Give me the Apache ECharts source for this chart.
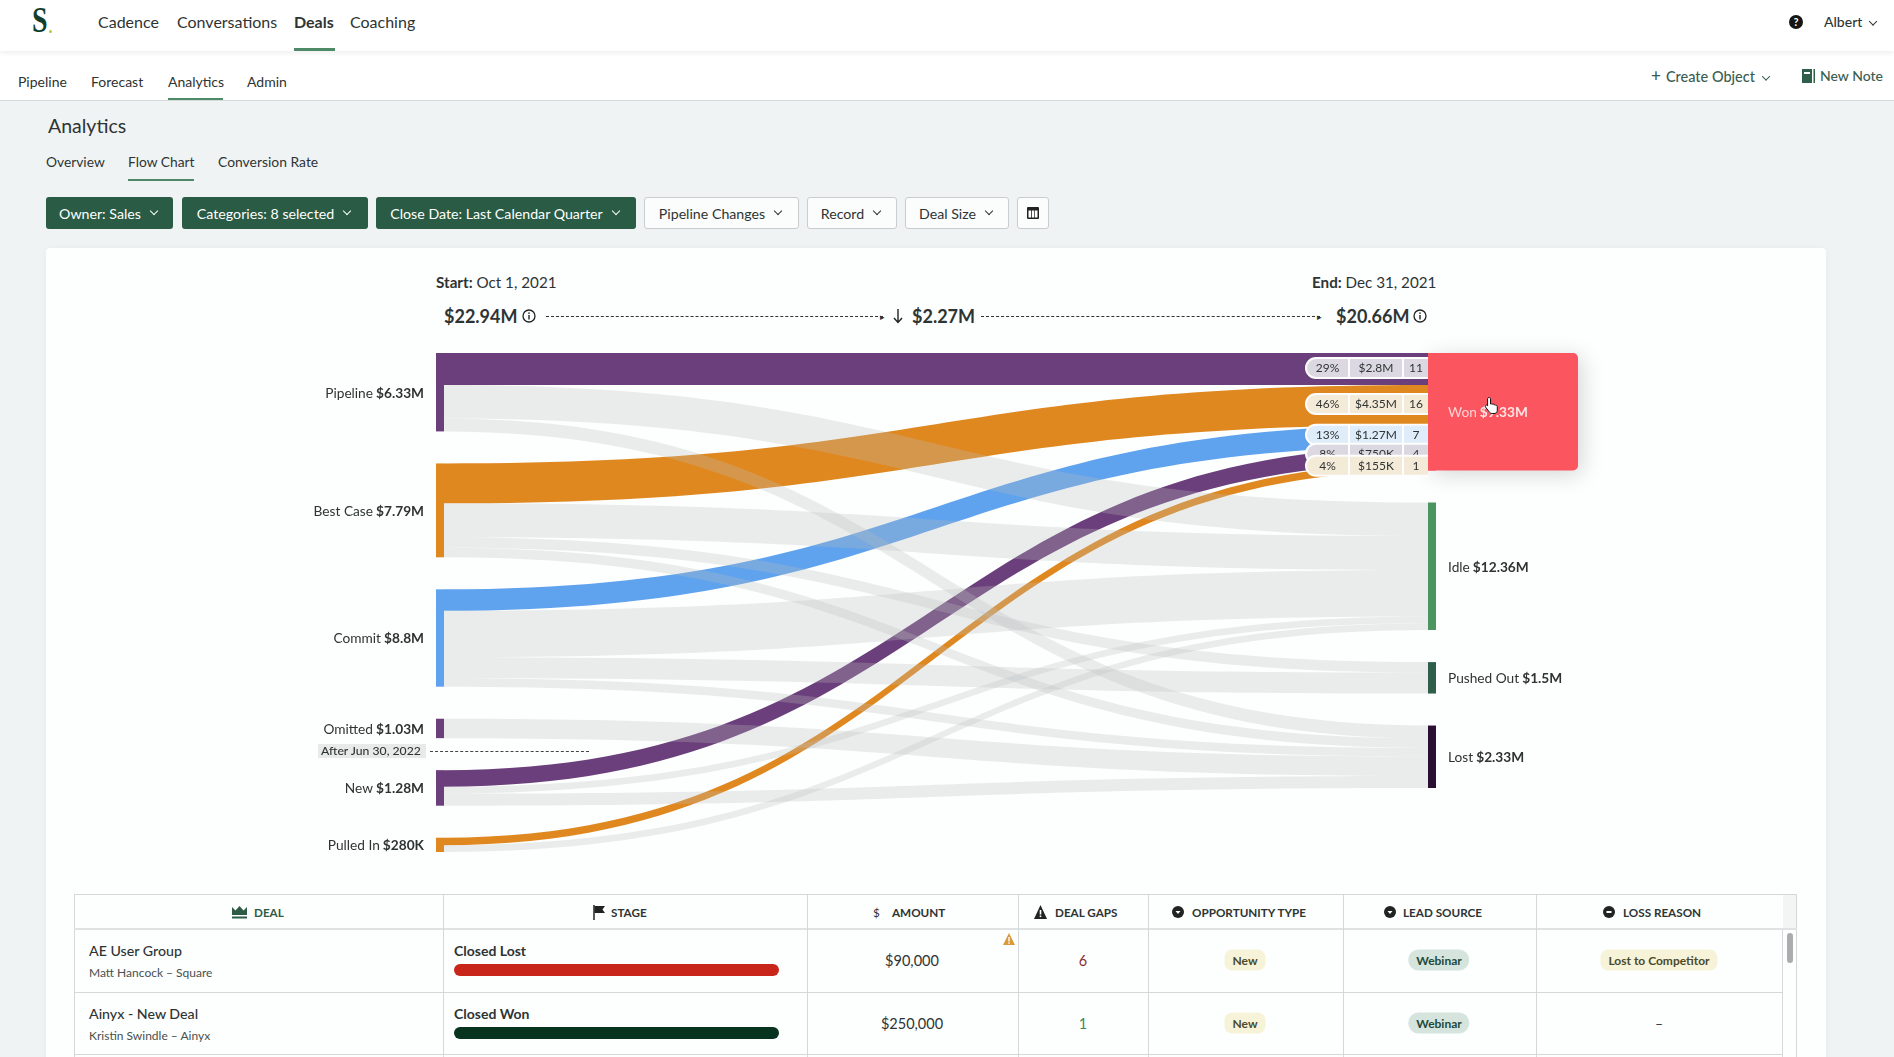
<!DOCTYPE html>
<html>
<head>
<meta charset="utf-8">
<title>Flow Chart</title>
<script src="https://cdn.jsdelivr.net/npm/echarts@6/dist/echarts.min.js"></script>
<style>
  html, body { margin: 0; padding: 0; width: 1894px; height: 1057px; overflow: hidden; background: #f0f3f3; font-family: Lato, "Open Sans", sans-serif; color: #2e3433; }
  .abs { position: absolute; }
  .t { position: absolute; white-space: nowrap; transform: translateY(-50%); }
  .c { transform: translate(-50%, -50%); }
  .bar { position: absolute; background: #fff; left: 0; width: 1894px; }
  .line { position: absolute; }
  .chev { display: inline-block; position: relative; top: -2px; width: 5px; height: 5px; border-right: 1.6px solid currentColor; border-bottom: 1.6px solid currentColor; transform: rotate(45deg); margin-left: 10px; }
  .btn { position: absolute; top: 197px; height: 32px; box-sizing: border-box; padding-right: 3px; border-radius: 3px; display: flex; align-items: center; justify-content: center; font-size: 14.2px; }
  .btn.on { background: #2a5b44; color: #fff; }
  .btn.off { background: #fbfcfc; color: #2e3433; border: 1px solid #c9cdcd; }
  #chart { position: absolute; left: 46px; top: 330px; width: 1780px; height: 550px; }
  .head { position: absolute; top: 912px; transform: translateY(-50%); font-size: 11.7px; font-weight: 700; white-space: nowrap; }
  .pill { position: absolute; transform: translate(-50%, -50%); padding: 3px 8px; border-radius: 8px; font-size: 12px; font-weight: 700; white-space: nowrap; }
  .pill.y { background: #f6f3d9; color: #4b4a2a; }
  .pill.g { background: #d5e4dd; color: #21493a; border-radius: 11px; }
  .stage { position: absolute; left: 454px; width: 325px; height: 12px; border-radius: 6px; }
</style>
</head>
<body>

<!-- top nav -->
<div class="bar" style="top:0;height:51px;box-shadow:0 2px 5px rgba(0,0,0,.07);z-index:2"></div>
<div class="bar" style="top:51px;height:49px;border-bottom:1px solid #d5dada"></div>
<div style="position:relative;z-index:3">
  <span class="t" style="left:30px;top:21px;font:700 35px 'Liberation Serif',serif;color:#123f2d;transform:translateY(-50%) scaleX(.8)">S</span>
  <span class="abs" style="left:49px;top:30px;width:3px;height:3px;border-radius:50%;background:#b5c93a"></span>
  <span class="t" style="left:98px;top:21px;font-size:16px">Cadence</span>
  <span class="t" style="left:177px;top:21px;font-size:16px">Conversations</span>
  <span class="t" style="left:294px;top:21px;font-size:16px;font-weight:700">Deals</span>
  <span class="t" style="left:350px;top:21px;font-size:16px">Coaching</span>
  <div class="line" style="left:294px;top:48px;width:41px;height:3px;background:#4f8a68"></div>
  <svg class="abs" style="left:1789px;top:15px" width="14" height="14"><circle cx="7" cy="7" r="7" fill="#151515"/><text x="7" y="11" font-size="11" font-weight="700" fill="#fff" text-anchor="middle" font-family="Lato">?</text></svg>
  <span class="t" style="left:1824px;top:21px;font-size:14px;font-weight:500">Albert<i class="chev" style="margin-left:8px"></i></span>
</div>

<span class="t" style="left:18px;top:81px;font-size:14px">Pipeline</span>
<span class="t" style="left:91px;top:81px;font-size:14px">Forecast</span>
<span class="t" style="left:168px;top:81px;font-size:14px">Analytics</span>
<span class="t" style="left:247px;top:81px;font-size:14px">Admin</span>
<div class="line" style="left:168px;top:98px;width:55px;height:2px;background:#4f8a68"></div>
<span class="t" style="left:1651px;top:75px;font-size:14.500px;color:#3a5d50;font-weight:500"><span style="font-size:17px;margin-right:5px">+</span>Create Object<i class="chev" style="margin-left:8px"></i></span>
<svg class="abs" style="left:1802px;top:69px" width="13" height="14"><rect width="10" height="14" fill="#2f5f4b"/><rect x="2" y="3" width="6" height="2" fill="#fff"/><rect x="11.500" width="1.500" height="14" fill="#2f5f4b"/></svg>
<span class="t" style="left:1820px;top:75px;font-size:14px;color:#3a5d50;font-weight:500">New Note</span>

<!-- analytics heading and filters -->
<span class="t" style="left:48px;top:125px;font-size:19.500px">Analytics</span>
<span class="t" style="left:46px;top:161px;font-size:13.800px">Overview</span>
<span class="t" style="left:128px;top:161px;font-size:13.800px">Flow Chart</span>
<span class="t" style="left:218px;top:161px;font-size:13.900px">Conversion Rate</span>
<div class="line" style="left:128px;top:179px;width:66px;height:2px;background:#4f8a68"></div>

<div class="btn on" style="left:46px;width:127px">Owner: Sales<i class="chev"></i></div>
<div class="btn on" style="left:182px;width:186px">Categories: 8 selected<i class="chev"></i></div>
<div class="btn on" style="left:376px;width:260px">Close Date: Last Calendar Quarter<i class="chev"></i></div>
<div class="btn off" style="left:644px;width:155px">Pipeline Changes<i class="chev"></i></div>
<div class="btn off" style="left:807px;width:90px">Record<i class="chev"></i></div>
<div class="btn off" style="left:905px;width:104px">Deal Size<i class="chev"></i></div>
<div class="btn off" style="left:1017px;width:32px;padding-right:0">
  <svg width="12" height="12"><rect width="12" height="12" rx="1" fill="#222"/><rect x="1.500" y="3.500" width="2.500" height="7" fill="#fff"/><rect x="4.800" y="3.500" width="2.500" height="7" fill="#fff"/><rect x="8" y="3.500" width="2.500" height="7" fill="#fff"/></svg>
</div>

<!-- card -->
<div class="abs" style="left:46px;top:248px;width:1780px;height:830px;background:#fdfefe;border-radius:4px;box-shadow:0 0 6px rgba(0,0,0,.04)"></div>

<span class="t" style="left:436px;top:282px;font-size:15.200px"><b>Start:</b> Oct 1, 2021</span>
<span class="t" style="left:1312px;top:282px;font-size:15.200px"><b>End:</b> Dec 31, 2021</span>
<span class="t" style="left:444px;top:316px;font-size:18px;font-weight:700">$22.94M</span>
<svg class="abs" style="left:522px;top:309px" width="14" height="14"><circle cx="7" cy="7" r="6" fill="none" stroke="#222" stroke-width="1.300"/><rect x="6.300" y="6" width="1.400" height="4.500" fill="#222"/><rect x="6.300" y="3.400" width="1.400" height="1.500" fill="#222"/></svg>
<div class="line" style="left:546px;top:316px;width:337px;border-top:1px dashed #333"></div>
<span class="t" style="left:880px;top:316px;font-size:9px">&#9656;</span>
<svg class="abs" style="left:893px;top:308px" width="10" height="16"><path d="M5 1V14M1 10L5 14.500L9 10" fill="none" stroke="#222" stroke-width="1.400"/></svg>
<span class="t" style="left:912px;top:316px;font-size:18px;font-weight:700">$2.27M</span>
<div class="line" style="left:981px;top:316px;width:339px;border-top:1px dashed #333"></div>
<span class="t" style="left:1317px;top:316px;font-size:9px">&#9656;</span>
<span class="t" style="left:1336px;top:316px;font-size:18px;font-weight:700">$20.66M</span>
<svg class="abs" style="left:1413px;top:309px" width="14" height="14"><circle cx="7" cy="7" r="6" fill="none" stroke="#222" stroke-width="1.300"/><rect x="6.300" y="6" width="1.400" height="4.500" fill="#222"/><rect x="6.300" y="3.400" width="1.400" height="1.500" fill="#222"/></svg>

<div id="chart"></div>

<div class="abs" style="left:318px;top:744px;width:108px;height:14px;background:#e8eaea;z-index:4"></div>
<span class="t" style="left:321px;top:750px;font-size:12.200px;font-weight:500;z-index:5">After Jun 30, 2022</span>
<div class="line" style="left:430px;top:751px;width:159px;border-top:1px dashed #444;z-index:5"></div>

<svg class="abs" style="left:1484px;top:396px;z-index:6" width="16" height="19" viewBox="0 0 16 19"><path d="M5 1.500c1 0 1.500.6 1.500 1.500v5l1-.2c.6-.1 1 .2 1.200.5.6-.3 1.200-.1 1.500.4.7-.2 1.300.1 1.500.6.9-.1 1.600.5 1.600 1.400v3.500c0 2-1.300 3.300-3.300 3.300H8c-1.300 0-2-.6-2.700-1.500L1.500 11c-.5-.7-.3-1.400.2-1.700.6-.4 1.200-.2 1.700.3l.2.2V3c0-.9.500-1.500 1.400-1.500z" fill="#fff" stroke="#111" stroke-width="1"/></svg>

<!-- deals table -->
<div class="abs" style="left:74px;top:894px;width:1723px;height:170px;box-sizing:border-box;border:1px solid #d5d8d8;background:#fdfefe"></div>
<div class="line" style="left:74px;top:928px;width:1723px;height:2px;background:#dfe2e2"></div>
<div class="line" style="left:74px;top:992px;width:1709px;height:1px;background:#d5d8d8"></div>
<div class="line" style="left:74px;top:1054px;width:1709px;height:1px;background:#d5d8d8"></div>
<div class="line" style="left:443px;top:894px;width:1px;height:163px;background:#d5d8d8"></div>
<div class="line" style="left:807px;top:894px;width:1px;height:163px;background:#d5d8d8"></div>
<div class="line" style="left:1018px;top:894px;width:1px;height:163px;background:#d5d8d8"></div>
<div class="line" style="left:1148px;top:894px;width:1px;height:163px;background:#d5d8d8"></div>
<div class="line" style="left:1343px;top:894px;width:1px;height:163px;background:#d5d8d8"></div>
<div class="line" style="left:1536px;top:894px;width:1px;height:163px;background:#d5d8d8"></div>
<div class="line" style="left:1782px;top:930px;width:1px;height:127px;background:#d5d8d8"></div>
<div class="line" style="left:1783px;top:895px;width:13px;height:33px;background:#f3f4f4"></div>
<div class="line" style="left:1787px;top:933px;width:6px;height:30px;border-radius:3px;background:#a9adad"></div>

<svg class="abs" style="left:232px;top:906px" width="15" height="13"><path d="M0 1L3.500 4.500L7.500 0L11.500 4.500L15 1V9H0z" fill="#2d5b45"/><rect y="10.500" width="15" height="2" fill="#2d5b45"/></svg>
<span class="head" style="left:254px;color:#2d5b45">DEAL</span>
<svg class="abs" style="left:593px;top:905px" width="12" height="15"><path d="M1 0V15" stroke="#222" stroke-width="1.500"/><path d="M1.500 1H12L9.500 4.500L12 8H1.500z" fill="#222"/></svg>
<span class="head" style="left:611px">STAGE</span>
<span class="head" style="left:873px;font-weight:400">$</span>
<span class="head" style="left:892px">AMOUNT</span>
<svg class="abs" style="left:1034px;top:905px" width="13" height="14"><path d="M6.500 0L13 14H0z" fill="#222"/><rect x="5.700" y="5" width="1.600" height="4.500" fill="#fff"/><rect x="5.700" y="10.500" width="1.600" height="1.600" fill="#fff"/></svg>
<span class="head" style="left:1055px">DEAL GAPS</span>
<svg class="abs" style="left:1172px;top:906px" width="12" height="12"><circle cx="6" cy="6" r="6" fill="#222"/><path d="M3.500 5H8.500L6 8z" fill="#fff"/></svg>
<span class="head" style="left:1192px">OPPORTUNITY TYPE</span>
<svg class="abs" style="left:1384px;top:906px" width="12" height="12"><circle cx="6" cy="6" r="6" fill="#222"/><path d="M3.500 5H8.500L6 8z" fill="#fff"/></svg>
<span class="head" style="left:1403px">LEAD SOURCE</span>
<svg class="abs" style="left:1603px;top:906px" width="12" height="12"><circle cx="6" cy="6" r="6" fill="#222"/><rect x="3.500" y="5" width="5" height="2" fill="#fff"/></svg>
<span class="head" style="left:1623px">LOSS REASON</span>

<span class="t" style="left:89px;top:950px;font-size:14.200px;font-weight:500">AE User Group</span>
<span class="t" style="left:89px;top:972px;font-size:12px;color:#4a504f">Matt Hancock – Square</span>
<span class="t" style="left:454px;top:950px;font-size:14px;font-weight:700">Closed Lost</span>
<div class="stage" style="top:964px;background:#c8261a"></div>
<span class="t c" style="left:912px;top:960px;font-size:14.500px">$90,000</span>
<svg class="abs" style="left:1003px;top:933px" width="12" height="12"><path d="M6 0L12 12H0z" fill="#d99a3c"/><rect x="5.300" y="4" width="1.400" height="4.500" fill="#fff"/><rect x="5.300" y="9.300" width="1.400" height="1.500" fill="#fff"/></svg>
<span class="t c" style="left:1083px;top:960px;font-size:14.500px;color:#8a2b2b">6</span>
<span class="pill y" style="left:1245px;top:960px">New</span>
<span class="pill g" style="left:1439px;top:960px">Webinar</span>
<span class="pill y" style="left:1659px;top:960px">Lost to Competitor</span>

<span class="t" style="left:89px;top:1013px;font-size:14.200px;font-weight:500">Ainyx - New Deal</span>
<span class="t" style="left:89px;top:1035px;font-size:12px;color:#4a504f">Kristin Swindle – Ainyx</span>
<span class="t" style="left:454px;top:1013px;font-size:14px;font-weight:700">Closed Won</span>
<div class="stage" style="top:1027px;background:#08331f"></div>
<span class="t c" style="left:912px;top:1023px;font-size:14.500px">$250,000</span>
<span class="t c" style="left:1083px;top:1023px;font-size:14.500px;color:#3c8a5a">1</span>
<span class="pill y" style="left:1245px;top:1023px">New</span>
<span class="pill g" style="left:1439px;top:1023px">Webinar</span>
<span class="t c" style="left:1659px;top:1023px;font-size:14px">–</span>

<script>
const sources = ['Pipeline', 'Best Case', 'Commit', 'Omitted', 'New', 'Pulled In']
const sourceTotals = ['$6.33M', '$7.79M', '$8.8M', '$1.03M', '$1.28M', '$280K']
const targets = ['Won', 'Idle', 'Pushed Out', 'Lost']
const targetTotals = ['$9.33M', '$12.36M', '$1.5M', '$2.33M']

// $M leaving each source, same order as sources. only the Won flows are printed, rest estimated
const toWon = [2.8, 4.35, 1.27, 0, 0.75, 0.155]
const toIdle = [3.08, 3.15, 5.87, 0, 0.13, 0.125]
const toPushedOut = [0, 0.3, 1.2, 0, 0, 0]
const toLost = [0.45, 0.25, 0.2, 1.03, 0.4, 0]

const wonPercent = ['29%', '46%', '13%', '8%', '4%']
const wonAmount = ['$2.8M', '$4.35M', '$1.27M', '$750K', '$155K']
const wonDeals = ['11', '16', '7', '4', '1']

const sourceColors = ['#6b3f7b', '#e08820', '#5fa2ee', '#6b3f7b', '#6b3f7b', '#e08820']
const targetColors = ['#fb5560', '#4a9560', '#2f5f4b', '#2a0f33']
const rowTints = ['#dcd8e2', '#f4ead8', '#dfecf9', '#dcd8e2', '#f4ead8']

const FONT = 'Lato'
const SERIES_LEFT = 390
const SERIES_TOP = 23

// bands in the original get thicker with about the square root of the amount
function bandSize(amount) {
    return Math.sqrt(amount)
}

function makeLinks(){
    let links = []
    // won flows first, so the grey ones wash over them where they cross
    toWon.forEach((amount, i) => {
        if(amount > 0){
            links.push({
                source: sources[i],
                target: 'Won',
                value: bandSize(amount),
                lineStyle: { color: sourceColors[i], opacity: 1 }
            })
        }
    })
    const others = [['Idle', toIdle], ['Pushed Out', toPushedOut], ['Lost', toLost]]
    others.forEach(([target, list]) => {
        list.forEach((amount, i) => {
            if(amount > 0){
                links.push({
                    source: sources[i],
                    target: target,
                    value: bandSize(amount),
                    lineStyle: { color: 'rgb(187,189,189)', opacity: 0.28 }
                })
            }
        })
    })
    return links
}

function makeNodes(){
    const left = sources.map((name, i) => ({
        name: name,
        itemStyle: { color: sourceColors[i] },
        label: { position: 'left', distance: 12, formatter: `{n|${name}} {v|${sourceTotals[i]}}` }
    }))
    const right = targets.map((name, i) => ({
        name: name,
        itemStyle: { color: targetColors[i] },
        label: {
            position: 'right',
            distance: 12,
            formatter: name === 'Won' ? `{wn|${name}} {wv|${targetTotals[i]}}` : `{n|${name}} {v|${targetTotals[i]}}`
        }
    }))
    return left.concat(right)
}

let chartDom = document.getElementById('chart')
let myChart = echarts.init(chartDom, null, { renderer: 'canvas' })

myChart.setOption({
    animation: false,
    series: [{
        type: 'sankey',
        left: SERIES_LEFT,
        top: SERIES_TOP,
        width: 1000,
        height: 499,
        nodeWidth: 8,
        nodeGap: 32,
        layoutIterations: 0,
        silent: true,
        emphasis: { disabled: true },
        data: makeNodes(),
        links: makeLinks(),
        lineStyle: { curveness: 0.5 },
        label: {
            fontFamily: FONT,
            offset: [0, 1],
            rich: {
                n: { fontFamily: FONT, fontSize: 13.7, color: '#2e3433' },
                v: { fontFamily: FONT, fontSize: 13.7, fontWeight: 700, color: '#2e3433' },
                wn: { fontFamily: FONT, fontSize: 13.7, color: '#fbd3d3' },
                wv: { fontFamily: FONT, fontSize: 13.7, fontWeight: 700, color: '#fde4e4' }
            }
        }
    }]
})

// the Won box and the little pills sit on the layout the sankey just made
function makeOverlay(){
    const graph = myChart.getModel().getSeriesByIndex(0).getGraph()
    const won = graph.getNodeByIndex(sources.length)
    const box = won.getLayout()
    const x = SERIES_LEFT + box.x
    const y = SERIES_TOP + box.y
    let items = [{
        type: 'rect',
        z: 1,
        silent: true,
        shape: { x: x, y: y, width: 150, height: box.dy, r: [0, 5, 5, 0] },
        style: { fill: targetColors[0], shadowBlur: 22, shadowOffsetX: 4, shadowOffsetY: 4, shadowColor: 'rgba(0,0,0,0.16)' }
    }]
    won.inEdges.forEach((edge, i) => {
        const layout = edge.getLayout()
        const mid = y + layout.ty + layout.dy / 2 - 1
        const z = 10 + i
        const cells = [
            { x: -121, w: 41, text: wonPercent[i], r: [9, 0, 0, 9] },
            { x: -78, w: 52, text: wonAmount[i], r: 0 },
            { x: -24, w: 24, text: wonDeals[i], r: 0 }
        ]
        items.push({
            type: 'rect',
            z: z,
            silent: true,
            shape: { x: x - 123, y: mid - 11, width: 123, height: 22, r: [11, 0, 0, 11] },
            style: { fill: '#fdfdfd' }
        })
        cells.forEach(cell => {
            items.push({
                type: 'rect',
                z: z,
                silent: true,
                shape: { x: x + cell.x, y: mid - 9, width: cell.w, height: 18, r: cell.r },
                style: { fill: rowTints[i] }
            })
            items.push({
                type: 'text',
                z: z,
                silent: true,
                x: x + cell.x + cell.w / 2,
                y: mid,
                style: {
                    text: cell.text,
                    fontFamily: FONT,
                    fontSize: 12,
                    fill: '#2e3433',
                    align: 'center',
                    verticalAlign: 'middle'
                }
            })
        })
    })
    return items
}

myChart.setOption({ graphic: makeOverlay() })
</script>
</body>
</html>
